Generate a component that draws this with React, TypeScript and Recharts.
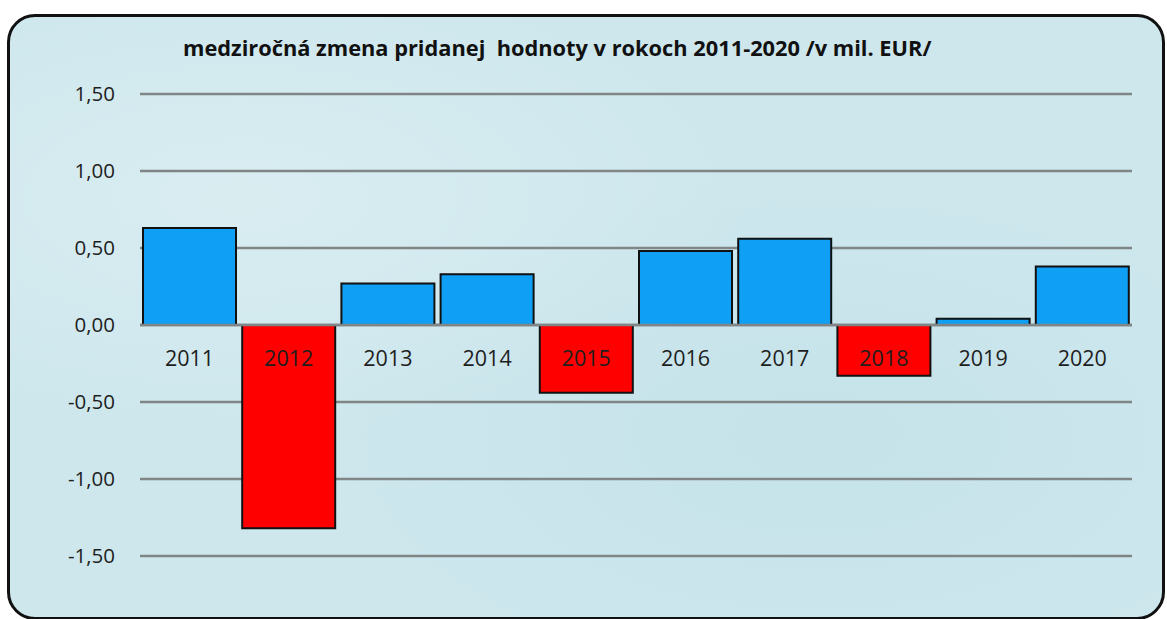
import React from "react";
import { BarChart, Bar, XAxis, YAxis, CartesianGrid, Cell, LabelList, ReferenceLine } from "recharts";

const years = ["2011", "2012", "2013", "2014", "2015", "2016", "2017", "2018", "2019", "2020"];
const values = [0.63, -1.32, 0.27, 0.33, -0.44, 0.48, 0.56, -0.33, 0.04, 0.38];
const yTicks = [-1.5, -1, -0.5, 0, 0.5, 1, 1.5];
const title = "medziročná zmena pridanej  hodnoty v rokoch 2011-2020 /v mil. EUR/";

const data = years.map((y, i) => ({ year: y, value: values[i] }));

const FONT = "'Open Sans', 'DejaVu Sans', sans-serif";

const YearLabel = (props: any) => {
  const { x, y, width, height, index } = props;
  const v = values[index];
  const a = Number(y);
  const b = Number(y) + Number(height);
  const zeroY = v >= 0 ? Math.max(a, b) : Math.min(a, b);
  return (
    <text
      x={Number(x) + Number(width) / 2}
      y={zeroY + 41}
      textAnchor="middle"
      fontFamily={FONT}
      fontSize={21.5}
      fill="#1e1e1e"
    >
      {years[index]}
    </text>
  );
};

export default function App() {
  return (
    <div style={{ position: "absolute", left: 0, top: 0, width: 1167, height: 619, overflow: "hidden", background: "#ffffff" }}>
      <div
        style={{
          position: "absolute",
          left: 7,
          top: 14,
          width: 1152,
          height: 600,
          border: "3px solid #111",
          borderRadius: 28,
          background: "#cde7ed",
          backgroundImage:
            "radial-gradient(ellipse at 20% 30%, rgba(255,255,255,0.25), rgba(255,255,255,0) 40%), radial-gradient(ellipse at 70% 70%, rgba(170,210,222,0.2), rgba(255,255,255,0) 45%)",
        }}
      />
      <div
        style={{
          position: "absolute",
          left: 183,
          top: 33,
          fontFamily: FONT,
          fontWeight: 700,
          fontSize: 21.8,
          color: "#111",
          whiteSpace: "pre",
        }}
      >
        {title}
      </div>
      <div style={{ position: "absolute", left: 0, top: 0 }}>
        <BarChart
          width={1167}
          height={619}
          data={data}
          margin={{ top: 94, right: 35, bottom: 63, left: 0 }}
          barCategoryGap={3}
        >
          <CartesianGrid horizontal={true} vertical={false} stroke="#808586" strokeWidth={2.5} />
          <XAxis dataKey="year" hide />
          <YAxis
            domain={[-1.5, 1.5]}
            ticks={yTicks}
            width={140}
            axisLine={false}
            tickLine={false}
            tickSize={0}
            tickMargin={25}
            interval={0}
            tickFormatter={(v: number) => v.toFixed(2).replace(".", ",")}
            tick={{ fontFamily: FONT, fontSize: 20.5, fill: "#1e1e1e" }}
          />
          <ReferenceLine y={0} stroke="#808586" strokeWidth={2.5} />
          <Bar dataKey="value" isAnimationActive={false} stroke="#111" strokeWidth={2}>
            {data.map((d, i) => (
              <Cell key={i} fill={d.value >= 0 ? "#0f9ff5" : "#fe0000"} />
            ))}
            <LabelList dataKey="value" content={YearLabel} />
          </Bar>
        </BarChart>
      </div>
    </div>
  );
}
